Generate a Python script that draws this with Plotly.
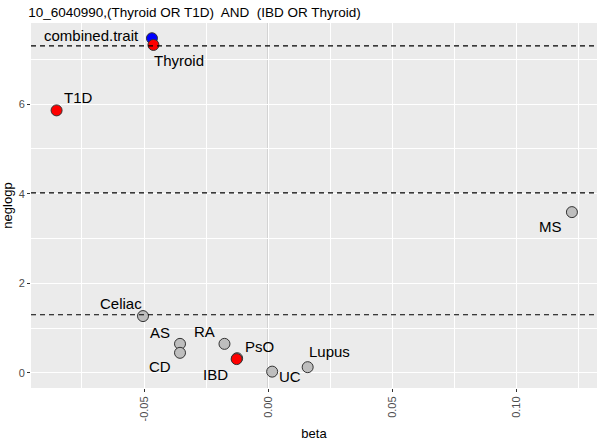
import plotly.graph_objects as go

title_text = "10_6040990,(Thyroid OR T1D)  AND  (IBD OR Thyroid)"
traits = ["Celiac", "AS", "CD", "RA", "PsO", "UC", "Lupus", "MS",
          "combined.trait", "T1D", "Thyroid", "IBD"]
groups = ["other", "other", "other", "other", "other", "other", "other", "other",
          "combined", "hyp", "hyp", "hyp"]
beta = [-0.0504, -0.0355, -0.0355, -0.0176, -0.0125, 0.0016, 0.0159, 0.1223,
        -0.0468, -0.0852, -0.0462, -0.0127]
neglogp = [1.27, 0.65, 0.45, 0.65, 0.33, 0.03, 0.13, 3.59,
           7.47, 5.86, 7.32, 0.31]
thresholds = [1.30, 4.02, 7.30]
x_ticks = [-0.05, 0.0, 0.05, 0.10]
x_tick_labels = ["-0.05", "0.00", "0.05", "0.10"]
y_ticks = [0, 2, 4, 6]

color_map = {"other": "#BEBEBE", "combined": "#0000FF", "hyp": "#FF0000"}
# label offsets in pixels (xshift, yshift)
label_offsets = {
    "combined.trait": (-60, 3), "Thyroid": (26, -16), "T1D": (22, 13),
    "MS": (-21, -14), "Celiac": (-22, 13), "AS": (-20, 11), "CD": (-20, -14),
    "RA": (-20, 12), "PsO": (22, 12), "IBD": (-21, -15), "UC": (18, -5),
    "Lupus": (22, 16),
}

FONT = "Liberation Sans, Arial, sans-serif"

fig = go.Figure()
fig.add_trace(go.Scatter(
    x=beta, y=neglogp, mode="markers",
    marker=dict(size=11, color=[color_map[g] for g in groups],
                line=dict(color="#333333", width=1)),
    hoverinfo="text", text=traits, showlegend=False,
))

annotations = []
for t, bx, ny in zip(traits, beta, neglogp):
    dx, dy = label_offsets[t]
    annotations.append(dict(x=bx, y=ny, xref="x", yref="y", text=t,
                            showarrow=False, xshift=dx, yshift=dy,
                            font=dict(family=FONT, size=15, color="#000000")))

shapes = [dict(type="line", xref="x", yref="paper", x0=0, x1=0, y0=0, y1=1,
               line=dict(color="#B3B3B3", width=1.2), layer="below")]
for th in thresholds:
    shapes.append(dict(type="line", xref="paper", yref="y", x0=0, x1=1, y0=th, y1=th,
                       line=dict(color="#000000", width=1.1, dash="5px,4px")))

fig.update_layout(
    width=600, height=442,
    margin=dict(l=31, r=3, t=23, b=54),
    paper_bgcolor="#FFFFFF", plot_bgcolor="#EBEBEB",
    title=dict(text=title_text, x=0.047, xanchor="left", y=0.973, yanchor="middle",
               font=dict(family=FONT, size=13.5, color="#000000")),
    annotations=annotations, shapes=shapes,
    xaxis=dict(range=[-0.0955, 0.1324], tickvals=x_ticks, ticktext=x_tick_labels,
               tickangle=-90, showgrid=True, gridcolor="#FFFFFF", gridwidth=1.2,
               zeroline=False, ticks="outside", ticklen=3, tickcolor="#333333",
               tickfont=dict(family=FONT, size=11, color="#4D4D4D"),
               minor=dict(dtick=0.05, tick0=-0.075, showgrid=True, gridcolor="#FFFFFF",
                          gridwidth=0.6, ticks=""),
               title=dict(text="beta", font=dict(family=FONT, size=13, color="#000000"),
                          standoff=8)),
    yaxis=dict(range=[-0.335, 7.81], tickvals=y_ticks, showgrid=True,
               gridcolor="#FFFFFF", gridwidth=1.2, zeroline=False,
               ticks="outside", ticklen=3, tickcolor="#333333",
               tickfont=dict(family=FONT, size=11, color="#4D4D4D"),
               minor=dict(dtick=2, tick0=1, showgrid=True, gridcolor="#FFFFFF",
                          gridwidth=0.6, ticks=""),
               title=dict(text="neglogp", font=dict(family=FONT, size=13, color="#000000"),
                          standoff=5)),
)

fig.write_html("out.html")
